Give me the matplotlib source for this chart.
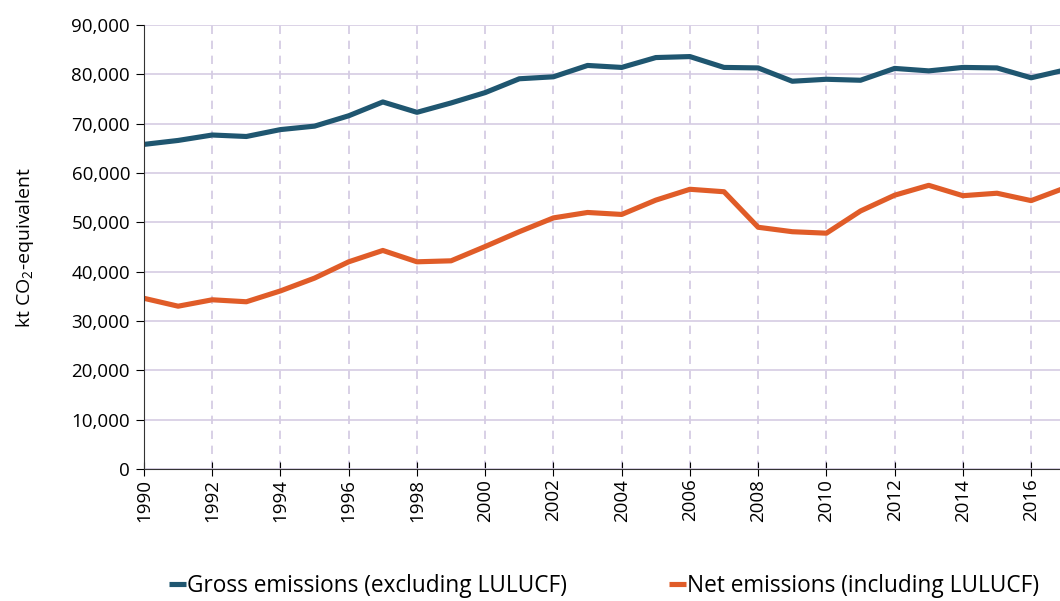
import numpy as np
import matplotlib
matplotlib.use("Agg")
import matplotlib.pyplot as plt

# data (kt CO2-equivalent)
years = list(range(1990, 2018))
gross = [65.8, 66.6, 67.7, 67.4, 68.8, 69.5, 71.6, 74.4, 72.3, 74.2, 76.3, 79.1, 79.5, 81.8,
         81.4, 83.4, 83.6, 81.4, 81.3, 78.6, 79.0, 78.8, 81.2, 80.7, 81.4, 81.3, 79.3, 80.9]
net = [34.6, 33.0, 34.3, 33.9, 36.1, 38.7, 42.0, 44.3, 42.0, 42.2, 45.1, 48.1, 50.9, 52.0,
       51.6, 54.5, 56.7, 56.2, 49.0, 48.1, 47.8, 52.3, 55.5, 57.5, 55.4, 55.9, 54.4, 57.0]
gross = [v * 1000 for v in gross]
net = [v * 1000 for v in net]
labels = ["Gross emissions (excluding LULUCF)", "Net emissions (including LULUCF)"]

plt.rcParams['font.family'] = ['Open Sans', 'DejaVu Sans']
plt.rcParams['mathtext.fontset'] = 'custom'
plt.rcParams['mathtext.rm'] = 'Open Sans'
plt.rcParams['mathtext.it'] = 'Open Sans'

fig = plt.figure(figsize=(10.6, 6.01), dpi=100)
ax = fig.add_axes([144 / 1060, 1 - 469 / 601, 1 - 144 / 1060, 444 / 601])

ax.plot(years, gross, color='#1f5670', lw=3.7, label=labels[0], solid_capstyle='butt')
ax.plot(years, net, color='#e05c28', lw=3.7, label=labels[1], solid_capstyle='butt')

ax.set_xlim(1990, 1990 + (1060 - 144) / 34.12)
ax.set_ylim(0, 90000)
ax.set_yticks(np.arange(0, 90001, 10000))
ax.set_yticklabels([f"{v:,}" for v in range(0, 90001, 10000)])
ax.set_xticks(range(1990, 2017, 2))
ax.tick_params(axis='x', labelrotation=90, direction='inout', length=10, labelsize=13.5, pad=2)
ax.tick_params(axis='y', direction='out', length=6, labelsize=13.5, pad=4)

ax.grid(axis='y', color='#d5cce3', lw=1.2, ls='-')
ax.grid(axis='x', color='#d2c8e2', lw=1.2, ls=(0, (5, 4)))
ax.set_axisbelow(True)

for s in ['top', 'right']:
    ax.spines[s].set_visible(False)
ax.spines['left'].set_color('#333333')
ax.spines['bottom'].set_color('#333333')

ax.set_ylabel("kt CO$_2$-equivalent", fontsize=14)
ax.yaxis.set_label_coords(-0.118, 0.5)

fig.legend(loc='center', bbox_to_anchor=(604 / 1060, 1 - 586 / 601), ncol=2, frameon=False,
           fontsize=16.3, handlelength=0.75, handletextpad=0.05, columnspacing=4.5)

fig.savefig("out.png", dpi=100)
